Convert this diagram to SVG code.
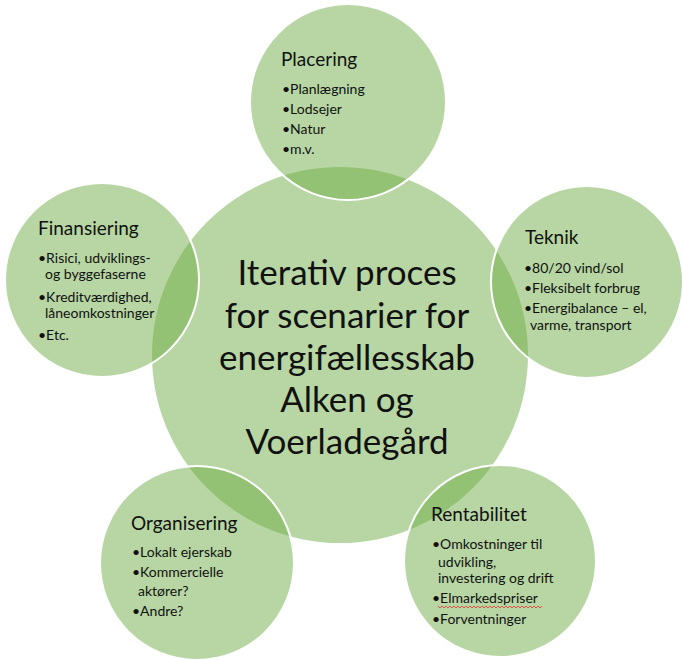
<svg xmlns="http://www.w3.org/2000/svg" width="682" height="660" viewBox="0 0 682 660">
<style>
.c{fill:#70AD47;fill-opacity:0.5}
.s{stroke:#FFFFFF;stroke-width:2}
text{font-family:Lato,"Liberation Sans",sans-serif;fill:#111}
.main{font-size:35px;text-anchor:middle}
.ti{font-size:19px}
.b{font-size:14px}
</style>
<rect width="682" height="660" fill="#FFFFFF"/>
<g id="center">
<circle class="c" cx="340" cy="355" r="188"/>
<text class="main" x="347" y="285">Iterativ proces</text>
<text class="main" x="347" y="328">for scenarier for</text>
<text class="main" x="347" y="370">energifællesskab</text>
<text class="main" x="347" y="412">Alken og</text>
<text class="main" x="347" y="454">Voerladegård</text>
</g>
<g id="placering">
<circle class="c s" cx="348" cy="102" r="98"/>
<text class="ti" x="281" y="66">Placering</text>
<text class="b" x="282" y="94">•Planlægning</text>
<text class="b" x="282" y="114">•Lodsejer</text>
<text class="b" x="282" y="134">•Natur</text>
<text class="b" x="282" y="154">•m.v.</text>
</g>
<g id="finansiering">
<circle class="c s" cx="102" cy="280" r="97"/>
<text class="ti" x="38" y="235">Finansiering</text>
<text class="b" x="38" y="263">•Risici, udviklings-</text>
<text class="b" x="45" y="279">og byggefaserne</text>
<text class="b" x="38" y="302">•Kreditværdighed,</text>
<text class="b" x="45" y="318">låneomkostninger</text>
<text class="b" x="38" y="340">•Etc.</text>
</g>
<g id="teknik">
<circle class="c s" cx="587" cy="282" r="96"/>
<text class="ti" x="525" y="244">Teknik</text>
<text class="b" x="524" y="273">•80/20 vind/sol</text>
<text class="b" x="524" y="293">•Fleksibelt forbrug</text>
<text class="b" x="524" y="313">•Energibalance – el,</text>
<text class="b" x="530" y="330">varme, transport</text>
</g>
<g id="organisering">
<circle class="c s" cx="197" cy="563" r="97"/>
<text class="ti" x="131" y="530">Organisering</text>
<text class="b" x="132" y="557">•Lokalt ejerskab</text>
<text class="b" x="132" y="577">•Kommercielle</text>
<text class="b" x="138" y="596">aktører?</text>
<text class="b" x="132" y="616">•Andre?</text>
</g>
<g id="rentabilitet">
<circle class="c s" cx="500" cy="561" r="96"/>
<text class="ti" x="431" y="521">Rentabilitet</text>
<text class="b" x="432" y="549">•Omkostninger til</text>
<text class="b" x="438" y="567">udvikling,</text>
<text class="b" x="438" y="583">investering og drift</text>
<text class="b" x="432" y="603">•Elmarkedspriser</text>
<path d="M438 606 l2 2 l2 -2 l2 2 l2 -2 l2 2 l2 -2 l2 2 l2 -2 l2 2 l2 -2 l2 2 l2 -2 l2 2 l2 -2 l2 2 l2 -2 l2 2 l2 -2 l2 2 l2 -2 l2 2 l2 -2 l2 2 l2 -2 l2 2 l2 -2 l2 2 l2 -2 l2 2 l2 -2 l2 2 l2 -2 l2 2 l2 -2 l2 2 l2 -2 l2 2 l2 -2 l2 2 l2 -2 l2 2 l2 -2 l2 2 l2 -2 l2 2 l2 -2 l2 2 l2 -2 l2 2 l2 -2 l2 2 l2 -2" fill="none" stroke="#E03030" stroke-width="0.8"/>
<text class="b" x="432" y="624">•Forventninger</text>
</g>
<g id="connectors"></g>
</svg>
